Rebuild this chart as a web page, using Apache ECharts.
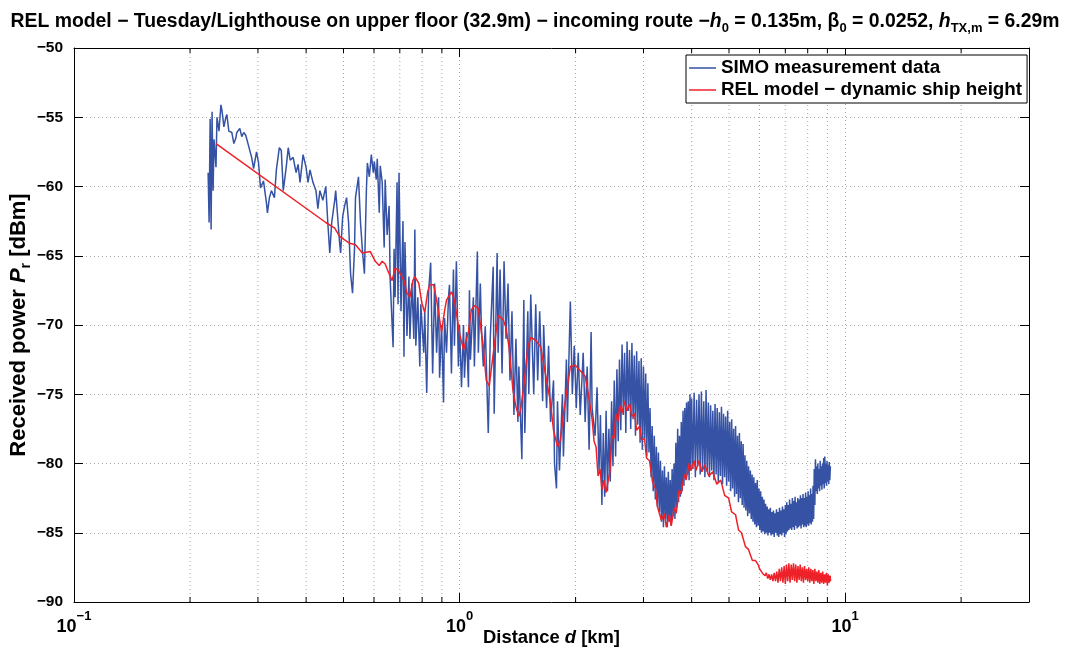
<!DOCTYPE html>
<html>
<head>
<meta charset="utf-8">
<script src="https://cdn.jsdelivr.net/npm/echarts@6/dist/echarts.min.js"></script>
<style>html,body{margin:0;padding:0;background:#fff}#c{width:1070px;height:653px}</style>
</head>
<body>
<div id="c"></div>
<script>
// ---- data (distance in km, received power in dBm) ----
// SIMO measurement, sparse part (0.22 .. 2.3 km)
const simoDist = [0.2228,0.2241,0.2255,0.2268,0.2281,0.2295,0.2308,0.2335,0.2349,0.2377,0.2405,0.2420,0.2448,0.2477,0.2492,0.2521,0.2566,0.2598,0.2629,0.2644,0.2692,0.2724,0.2756,0.2789,0.2839,0.2889,0.2923,0.2975,0.3011,0.3046,0.3101,0.3157,0.3175,0.3213,0.3251,0.3310,0.3349,0.3409,0.3449,0.3490,0.3552,0.3595,0.3637,0.3702,0.3768,0.3813,0.3858,0.3928,0.3998,0.4046,0.4094,0.4167,0.4242,0.4292,0.4343,0.4420,0.4499,0.4553,0.4607,0.4661,0.4745,0.4773,0.4830,0.4887,0.4916,0.4975,0.5034,0.5094,0.5155,0.5217,0.5278,0.5341,0.5372,0.5469,0.5535,0.5599,0.5666,0.5733,0.5767,0.5835,0.5905,0.5975,0.6011,0.6082,0.6118,0.6191,0.6228,0.6301,0.6376,0.6414,0.6490,0.6567,0.6606,0.6725,0.6764,0.6805,0.6886,0.6926,0.6967,0.7050,0.7134,0.7176,0.7219,0.7305,0.7392,0.7435,0.7523,0.7613,0.7658,0.7703,0.7795,0.7888,0.7934,0.8076,0.8124,0.8220,0.8318,0.8417,0.8517,0.8619,0.8721,0.8825,0.8877,0.8983,0.9090,0.9143,0.9252,0.9362,0.9418,0.9529,0.9643,0.9700,0.9815,0.9932,1.0000,1.0119,1.0240,1.0300,1.0423,1.0547,1.0610,1.0672,1.0863,1.0927,1.1123,1.1189,1.1322,1.1389,1.1525,1.1662,1.1872,1.2013,1.2226,1.2299,1.2518,1.2592,1.2742,1.2893,1.3047,1.3202,1.3359,1.3518,1.3678,1.3840,1.4005,1.4171,1.4255,1.4510,1.4682,1.4769,1.5034,1.5124,1.5303,1.5577,1.5762,1.5949,1.6139,1.6428,1.6526,1.6821,1.7021,1.7223,1.7531,1.7635,1.7844,1.7950,1.8163,1.8488,1.8598,1.8931,1.9043,1.9383,1.9614,1.9846,2.0082,2.0321,2.0563,2.0931,2.1179,2.1431,2.1686,2.1944,2.2074,2.2469,2.2736,2.3006];
const simoPower = [-59,-62.6,-55.1,-63.1,-54.6,-60.3,-56.6,-58.6,-55,-56,-54.1,-54.5,-55.7,-55,-54.8,-56,-56.1,-56.9,-56.5,-56.1,-55.8,-56.4,-56.1,-56.3,-57.1,-57.9,-58.7,-57.5,-58.3,-60.1,-59.6,-61.2,-61.9,-60.8,-60.3,-60.8,-58.8,-57.2,-57.4,-60.3,-58.6,-57.2,-58.1,-57.9,-59,-58.4,-59.7,-57.7,-58.6,-59.7,-58.8,-59.7,-60.3,-61.6,-60.3,-61,-60,-62.6,-64.8,-62.6,-61,-60.3,-62.2,-64.1,-64.8,-62.2,-61.4,-60.8,-62.6,-66.3,-67.7,-64.5,-60.8,-59.3,-62.6,-64.6,-66.3,-60.3,-58.3,-59.3,-57.7,-59,-58.2,-59.5,-58,-61.9,-58.5,-59.7,-64.4,-59.5,-63.5,-61.4,-66.6,-71.6,-64.5,-68,-59.7,-68.5,-59,-69,-62.5,-72.3,-64,-70.8,-66.5,-71,-67,-71,-63.1,-71.5,-68,-73,-68.5,-72,-69,-74.9,-67.5,-65.5,-73.5,-67,-72,-68,-73.8,-70,-75.6,-69.5,-72,-68,-67.1,-73.5,-66,-71.5,-65.4,-73,-70,-74.5,-70,-73.8,-70.5,-74.5,-67.5,-72.5,-68,-73,-64.7,-72,-67,-70,-73,-70.1,-77.8,-71,-65.8,-76.4,-64.8,-72,-66,-73.5,-65.4,-71,-67,-74,-69,-76.5,-71,-77,-73,-79.7,-68.2,-77.8,-69,-75,-67.8,-75,-68.5,-74,-69,-75.5,-70,-76,-71.5,-77,-74,-80,-81.8,-75.5,-80.5,-75,-79.5,-72.5,-77,-68.3,-75,-71.5,-76,-72,-76.5,-72,-77,-73,-79,-70.5,-76,-78,-74.5,-80.5];
// SIMO measurement, dense part (2.32 .. 9.16 km) as [km, dBm]
const simoDense = [[2.32,-76.5],[2.34,-83.0],[2.36,-77.8],[2.38,-82.4],[2.40,-76.2],[2.42,-82.0],[2.44,-77.5],[2.46,-81.3],[2.48,-75.5],[2.50,-80.2],[2.52,-74.0],[2.54,-79.5],[2.56,-73.2],[2.58,-78.4],[2.60,-72.5],[2.62,-77.6],[2.64,-71.4],[2.66,-76.5],[2.68,-72.0],[2.70,-77.8],[2.72,-71.2],[2.74,-76.2],[2.76,-71.8],[2.78,-77.5],[2.80,-71.3],[2.82,-76.8],[2.84,-72.2],[2.86,-78.0],[2.88,-71.9],[2.90,-77.2],[2.92,-72.6],[2.94,-78.5],[2.96,-72.4],[2.98,-79.0],[3.00,-73.0],[3.02,-78.2],[3.04,-73.5],[3.06,-79.5],[3.08,-74.2],[3.10,-79.2],[3.12,-76.0],[3.14,-81.0],[3.16,-77.3],[3.18,-82.0],[3.20,-78.0],[3.22,-82.6],[3.24,-78.8],[3.26,-83.1],[3.28,-79.2],[3.30,-83.5],[3.32,-79.8],[3.34,-84.2],[3.36,-80.5],[3.38,-84.6],[3.40,-80.2],[3.42,-84.0],[3.44,-81.0],[3.46,-84.6],[3.48,-80.6],[3.50,-84.2],[3.52,-81.2],[3.54,-84.5],[3.56,-80.4],[3.58,-83.8],[3.60,-80.0],[3.62,-84.0],[3.64,-78.5],[3.66,-83.2],[3.68,-77.5],[3.70,-82.8],[3.72,-78.0],[3.74,-82.4],[3.76,-77.0],[3.78,-82.0],[3.80,-76.2],[3.82,-81.6],[3.84,-76.0],[3.86,-81.0],[3.88,-75.6],[3.90,-80.8],[3.92,-75.5],[3.94,-81.2],[3.96,-75.0],[3.98,-80.5],[4.00,-75.3],
[4.03,-80.4],[4.06,-74.9],[4.09,-81.0],[4.12,-75.4],[4.15,-80.2],[4.18,-75.0],[4.21,-80.8],[4.24,-74.8],[4.27,-80.4],[4.30,-75.5],[4.33,-81.0],[4.36,-74.7],[4.39,-80.6],[4.42,-75.6],[4.45,-81.0],[4.48,-75.8],[4.51,-80.5],[4.54,-76.2],[4.57,-81.2],[4.60,-75.7],[4.63,-80.8],[4.66,-76.0],[4.69,-81.4],[4.72,-76.3],[4.75,-80.9],[4.78,-75.9],[4.81,-81.5],[4.84,-76.4],[4.87,-81.0],[4.90,-76.6],[4.93,-81.6],[4.96,-76.2],[4.99,-81.3],[5.02,-77.0],[5.05,-82.0],[5.08,-76.8],[5.11,-81.8],[5.14,-77.5],[5.17,-82.4],[5.20,-77.3],[5.23,-82.2],[5.26,-78.0],[5.29,-82.8],[5.32,-77.8],[5.35,-82.5],[5.38,-78.4],[5.41,-83.0],[5.44,-78.6],[5.47,-83.2],[5.50,-79.4],[5.53,-83.4],[5.56,-79.8],[5.59,-83.8],[5.62,-80.2],[5.65,-83.6],[5.68,-80.5],[5.71,-84.0],[5.74,-80.8],[5.77,-84.2],[5.80,-81.0],[5.83,-84.4],[5.86,-81.4],[5.89,-84.6],[5.92,-81.2],[5.95,-84.5],[5.98,-81.8],[6.01,-84.8],[6.04,-82.0],[6.07,-85.0],[6.10,-82.4],[6.13,-84.9],[6.16,-82.6],[6.19,-85.1],[6.22,-82.9],[6.25,-85.0],[6.28,-83.1],[6.31,-85.2],[6.34,-83.3],[6.37,-85.0],[6.40,-83.2],[6.43,-85.2],[6.46,-83.5],[6.49,-85.1],[6.52,-83.4],[6.55,-85.3],[6.58,-83.6],[6.61,-85.0],[6.64,-83.3],[6.67,-85.2],[6.70,-83.5],[6.73,-85.3],[6.76,-83.2],[6.79,-85.1],[6.82,-83.4],[6.85,-85.2],[6.88,-83.1],[6.91,-85.0],[6.94,-83.3],[6.97,-85.3],[7.00,-83.0],[7.03,-85.1],[7.06,-82.8],[7.09,-84.9],[7.12,-83.0],[7.15,-84.8],[7.18,-82.6],[7.21,-84.7],[7.24,-82.9],[7.27,-84.8],[7.30,-82.5],[7.33,-84.6],[7.36,-82.7],[7.39,-84.8],[7.42,-82.4],[7.45,-84.5],[7.48,-82.8],[7.51,-84.7],[7.54,-82.5],[7.57,-84.6],[7.60,-82.6],[7.63,-84.5],[7.66,-82.3],[7.69,-84.7],[7.72,-82.5],[7.75,-84.4],[7.78,-82.2],[7.81,-84.6],[7.84,-82.5],[7.87,-84.5],[7.90,-82.1],[7.93,-84.6],[7.96,-82.4],[7.99,-84.4],[8.02,-82.0],[8.05,-84.5],[8.08,-82.3],[8.11,-84.3],[8.14,-81.8],[8.17,-84.4],[8.20,-82.2],[8.23,-84.2],[8.26,-81.6],[8.29,-84.0],[8.32,-80.4],[8.35,-83.0],[8.38,-79.7],[8.41,-82.0],[8.44,-80.2],[8.47,-82.2],[8.50,-80.0],[8.53,-81.8],[8.56,-80.4],[8.59,-82.0],[8.62,-79.8],[8.65,-81.6],[8.68,-80.2],[8.71,-81.9],[8.74,-80.0],[8.77,-81.5],[8.80,-79.6],[8.83,-81.8],[8.86,-79.5],[8.89,-81.4],[8.92,-80.0],[8.95,-81.6],[8.98,-79.8],[9.01,-81.3],[9.04,-80.1],[9.07,-81.5],[9.10,-79.9],[9.13,-81.2],[9.16,-80.2]];

// REL model (0.23 .. 5.85 km)
const relDist = [0.2335,0.4499,0.4745,0.4887,0.5186,0.5372,0.5599,0.5870,0.6046,0.6191,0.6301,0.6414,0.6567,0.6685,0.6805,0.6926,0.7008,0.7176,0.7305,0.7435,0.7568,0.7658,0.7842,0.7981,0.8124,0.8269,0.8368,0.8568,0.8721,0.8983,0.9143,0.9252,0.9529,0.9700,1.0000,1.0240,1.0547,1.0735,1.0927,1.1189,1.1389,1.1525,1.1731,1.1942,1.2226,1.2592,1.2970,1.3202,1.3438,1.3759,1.4005,1.4255,1.4425,1.4682,1.5034,1.5303,1.5762,1.6235,1.6526,1.6921,1.7223,1.7531,1.7950,1.8271,1.8598,1.9043,1.9383,1.9964,2.0563,2.1179,2.1559,2.2074,2.2337,2.2603,2.2871,2.3143,2.3418,2.3696,2.3979,2.4263,2.4551,2.4843,2.5138,2.5437,2.5740,2.6046,2.6355,2.6827,2.7145,2.7631,2.7959,2.8460,2.8797,2.9313,2.9662,3.0192,3.0550,3.1097,3.1653,3.2219,3.2602,3.2990,3.3383,3.3980,3.4382,3.4998,3.5414,3.6048,3.6475,3.7129,3.7570,3.8242,3.8697,3.9389,3.9857,4.0570,4.1052,4.1786,4.2533,4.3294,4.4330,4.5390,4.6474,4.7587,4.8725,4.9891,5.0783,5.1996,5.2928,5.3875,5.5162,5.6149,5.7491,5.8518];
const relPower = [-56.9,-62.6,-63.0,-63.6,-64.1,-64.2,-64.8,-64.7,-65.4,-65.7,-65.4,-65.6,-66.3,-66.8,-65.9,-66.0,-65.9,-66.8,-67.7,-68.0,-66.8,-66.5,-67.0,-68.4,-69.1,-67.6,-67.1,-67.1,-68.2,-70.5,-69.0,-68.2,-67.6,-68.2,-70.6,-71.8,-70.5,-68.9,-68.6,-68.8,-70.5,-71.6,-74.0,-74.4,-72.1,-69.3,-69.6,-70.2,-71.6,-74.7,-75.9,-76.6,-76.0,-74.4,-71.6,-70.9,-71.1,-71.6,-72.8,-74.4,-75.6,-77.6,-78.8,-78.3,-76.4,-74.5,-73.0,-72.9,-73.3,-73.7,-74.9,-76.8,-78.4,-78.8,-80.9,-80.4,-81.9,-81.2,-82.1,-81.3,-80.6,-78.0,-78.2,-76.4,-77.0,-75.8,-76.4,-75.5,-76.2,-75.7,-76.6,-76.4,-77.6,-77.3,-78.3,-78.2,-79.6,-79.8,-81.3,-81.8,-83.1,-83.2,-84.1,-83.6,-84.6,-83.7,-84.5,-83.2,-83.6,-81.9,-82.2,-80.8,-81.2,-80.0,-80.5,-79.8,-80.5,-79.8,-80.6,-80.1,-80.9,-80.6,-81.5,-81.2,-82.3,-82.5,-83.5,-83.7,-84.8,-85.0,-86.0,-86.2,-87.0,-87.0];
// REL model, noisy tail (5.95 .. 9.17 km) as [km, dBm]
const relTail = [[5.95,-87.3],[6.00,-87.6],[6.05,-87.5],[6.10,-87.9],[6.15,-87.8],[6.20,-88.1],[6.25,-87.9],[6.30,-88.3],[6.35,-88.0],[6.40,-88.4],[6.45,-88.0],[6.50,-88.5],[6.55,-87.9],[6.60,-88.5],[6.65,-87.8],[6.70,-88.6],[6.75,-87.6],[6.80,-88.5],[6.85,-87.5],[6.90,-88.6],[6.95,-87.4],[7.00,-88.7],[7.05,-87.3],[7.10,-88.5],[7.15,-87.2],[7.20,-88.6],[7.25,-87.3],[7.30,-88.4],[7.35,-87.2],[7.40,-88.5],[7.45,-87.3],[7.50,-88.6],[7.55,-87.4],[7.60,-88.4],[7.65,-87.3],[7.70,-88.5],[7.75,-87.5],[7.80,-88.6],[7.85,-87.4],[7.90,-88.4],[7.95,-87.6],[8.00,-88.5],[8.05,-87.5],[8.10,-88.6],[8.15,-87.6],[8.20,-88.5],[8.25,-87.7],[8.30,-88.7],[8.35,-87.6],[8.40,-88.5],[8.45,-87.8],[8.50,-88.6],[8.55,-87.7],[8.60,-88.7],[8.65,-87.9],[8.70,-88.6],[8.75,-87.8],[8.80,-88.7],[8.85,-88.0],[8.90,-88.6],[8.95,-87.9],[9.00,-88.8],[9.05,-88.0],[9.10,-88.6],[9.15,-88.1],[9.17,-88.5]];

const majorXTicks = [0.1, 1, 10];
const minorXTicks = [0.2,0.3,0.4,0.5,0.6,0.7,0.8,0.9,2,3,4,5,6,7,8,9,20];
const yTicks = [-90,-85,-80,-75,-70,-65,-60,-55,-50];

const seriesNames = ['SIMO measurement data', 'REL model \u2212 dynamic ship height'];

// ---- chart ----
const FF = 'Liberation Sans, Arial, Helvetica, sans-serif';
const zip = (a, b) => a.map((v, i) => [v, b[i]]);
const chart = echarts.init(document.getElementById('c'), null, {renderer: 'canvas'});

const gridStyle = {color: '#a8a8a8', type: [1, 3], width: 1};
const BLUE = '#3552a5', RED = '#ee2128';

const option = {
  animation: false,
  backgroundColor: '#fff',
  title: {
    text: '{b|REL model \u2212 Tuesday/Lighthouse on upper floor (32.9m) \u2212 incoming route \u2212}{bi|h}{s|0}{b| = 0.135m, \u03b2}{s|0}{b| = 0.0252, }{bi|h}{s|TX,m}{b| = 6.29m}',
    left: 'center', top: 4,
    textStyle: {
      rich: {
        b: {fontFamily: FF, fontWeight: 'bold', fontSize: 19.4, color: '#000', lineHeight: 26, verticalAlign: 'middle'},
        bi: {fontFamily: FF, fontWeight: 'bold', fontStyle: 'italic', fontSize: 19.4, color: '#000', lineHeight: 26, verticalAlign: 'middle'},
        s: {fontFamily: FF, fontWeight: 'bold', fontSize: 13, color: '#000', lineHeight: 12, verticalAlign: 'bottom'}
      }
    }
  },
  legend: {
    data: seriesNames,
    orient: 'vertical',
    left: 686, top: 55,
    icon: 'rect',
    itemWidth: 27, itemHeight: 1.5, itemGap: 0,
    padding: [2, 5, 2, 3],
    borderColor: '#000', borderWidth: 1, borderRadius: 0,
    backgroundColor: '#fff',
    textStyle: {fontFamily: FF, fontWeight: 'bold', fontSize: 18.8, color: '#000', lineHeight: 22}
  },
  grid: {left: 74, right: 41, top: 48, bottom: 51, containLabel: false, outerBoundsMode: 'none'},
  xAxis: [{
    type: 'log', logBase: 10, min: 0.1, max: 30,
    position: 'bottom',
    name: '{b|Distance }{bi|d}{b| [km]}',
    nameLocation: 'middle', nameGap: 27, nameMoveOverlap: false,
    nameTextStyle: {rich: {
      b: {fontFamily: FF, fontWeight: 'bold', fontSize: 18.4, color: '#000'},
      bi: {fontFamily: FF, fontWeight: 'bold', fontStyle: 'italic', fontSize: 18.4, color: '#000'}
    }},
    axisLine: {show: true, lineStyle: {color: '#000', width: 1}},
    axisTick: {show: true, inside: true, length: 9, lineStyle: {color: '#000'}},
    axisLabel: {
      margin: 8,
      formatter: function (v) {
        for (const t of majorXTicks) {
          if (Math.abs(v - t) / t < 1e-6) {
            const e = Math.round(Math.log10(t));
            return '{b|10}{sup|' + (e < 0 ? '\u2212' + (-e) : e) + '}';
          }
        }
        return '';
      },
      rich: {
        b: {fontFamily: FF, fontWeight: 'bold', fontSize: 18, color: '#000', lineHeight: 26, verticalAlign: 'bottom'},
        sup: {fontFamily: FF, fontWeight: 'bold', fontSize: 13, color: '#000', lineHeight: 14, verticalAlign: 'top'}
      }
    },
    splitLine: {show: true, lineStyle: gridStyle},
    minorTick: {show: false}
  }, {
    type: 'log', logBase: 10, min: 0.1, max: 30,
    position: 'top',
    axisLine: {show: true, lineStyle: {color: '#000', width: 1}},
    axisTick: {show: true, inside: true, length: 9, lineStyle: {color: '#000'}},
    axisLabel: {show: false},
    splitLine: {show: false}
  }],
  yAxis: [{
    type: 'value', min: -90, max: -50, interval: 5,
    position: 'left',
    name: '{b|Received power }{bi|P}{s|r}{b| [dBm]}',
    nameLocation: 'middle', nameGap: 41, nameRotate: 90, nameMoveOverlap: false,
    nameTextStyle: {rich: {
      b: {fontFamily: FF, fontWeight: 'bold', fontSize: 22, color: '#000', lineHeight: 28, verticalAlign: 'middle'},
      bi: {fontFamily: FF, fontWeight: 'bold', fontStyle: 'italic', fontSize: 22, color: '#000', lineHeight: 28, verticalAlign: 'middle'},
      s: {fontFamily: FF, fontWeight: 'bold', fontSize: 14, color: '#000', lineHeight: 12, verticalAlign: 'bottom'}
    }},
    axisLine: {show: true, lineStyle: {color: '#000', width: 1}},
    axisTick: {show: true, inside: true, length: 9, lineStyle: {color: '#000'}},
    axisLabel: {
      margin: 11,
      fontFamily: FF, fontWeight: 'bold', fontSize: 15.5, color: '#000',
      formatter: v => (yTicks.includes(v) ? String(v).replace('-', '\u2212') : '')
    },
    splitLine: {show: true, lineStyle: gridStyle}
  }, {
    type: 'value', min: -90, max: -50, interval: 5,
    position: 'right',
    axisLine: {show: true, lineStyle: {color: '#000', width: 1}},
    axisTick: {show: true, inside: true, length: 9, lineStyle: {color: '#000'}},
    axisLabel: {show: false},
    splitLine: {show: false}
  }],
  series: [{
    type: 'custom',
    name: 'minorGrid',
    silent: true,
    z: 1,
    xAxisIndex: 0, yAxisIndex: 0,
    data: minorXTicks.map(d => [d, -90]),
    renderItem: function (params, api) {
      const v = api.value(0);
      const b = api.coord([v, -90]);
      const t = api.coord([v, -50]);
      return {
        type: 'group',
        children: [
          {type: 'line', shape: {x1: b[0], y1: b[1], x2: t[0], y2: t[1]}, style: {stroke: '#a8a8a8', lineWidth: 1, lineDash: [1, 3]}},
          {type: 'line', shape: {x1: b[0], y1: b[1], x2: b[0], y2: b[1] - 5}, style: {stroke: '#000', lineWidth: 1}},
          {type: 'line', shape: {x1: t[0], y1: t[1], x2: t[0], y2: t[1] + 5}, style: {stroke: '#000', lineWidth: 1}}
        ]
      };
    }
  }, {
    type: 'line',
    name: seriesNames[0],
    data: zip(simoDist, simoPower).concat(simoDense),
    showSymbol: false, symbol: 'none',
    lineStyle: {color: BLUE, width: 1.5},
    itemStyle: {color: BLUE},
    z: 3
  }, {
    type: 'line',
    name: seriesNames[1],
    data: zip(relDist, relPower).concat(relTail),
    showSymbol: false, symbol: 'none',
    lineStyle: {color: RED, width: 1.5},
    itemStyle: {color: RED},
    z: 4
  }]
};
chart.setOption(option);
</script>
</body>
</html>
